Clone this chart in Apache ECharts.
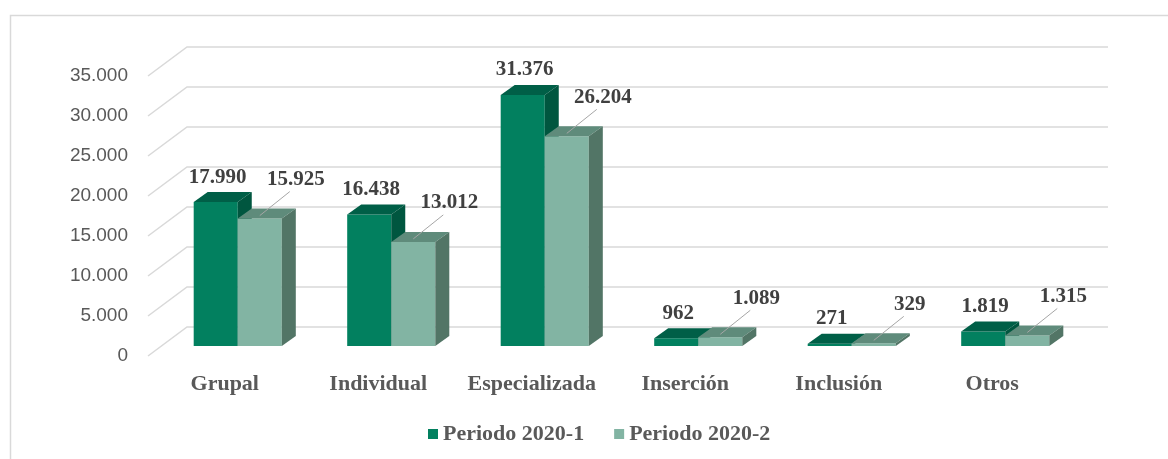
<!DOCTYPE html>
<html>
<head>
<meta charset="utf-8">
<script src="https://cdn.jsdelivr.net/npm/echarts@6/dist/echarts.min.js"></script>
<style>
html,body{margin:0;padding:0;background:#fff;}
#chart{width:1168px;height:459px;}
</style>
</head>
<body>
<div id="chart"></div>
<script>
const categories = ['Grupal', 'Individual', 'Especializada', 'Inserción', 'Inclusión', 'Otros'];
const periodo1 = [17990, 16438, 31376, 962, 271, 1819];
const periodo2 = [15925, 13012, 26204, 1089, 329, 1315];
const seriesNames = ['Periodo 2020-1', 'Periodo 2020-2'];
const yTicks = [0, 5000, 10000, 15000, 20000, 25000, 30000, 35000];

// 3D projection constants (style)
const WALL_DX = 39, WALL_DY = -29;     // front plane -> back wall
const PLANE_DX = 13, PLANE_DY = -10;   // front plane -> bar front plane
const DEPTH_DX = 14, DEPTH_DY = -10;   // bar depth
const BAR_FRAC = 0.287;

const colors = [
  {front: '#02805f', top: '#005f47', side: '#00563f'},
  {front: '#82b4a3', top: '#5f8b7b', side: '#527566'}
];

function fmt(v) {
  return String(v).replace(/\B(?=(\d{3})+(?!\d))/g, '.');
}

const serifBold = {fontFamily: 'Liberation Serif', fontWeight: 'bold'};

function barRenderer(sIdx) {
  return function (params, api) {
    const idx = api.value(0), val = api.value(1);
    const base = api.coord([idx, 0]);
    const top = api.coord([idx, val]);
    const bw = api.size([1, 0])[0] * BAR_FRAC;
    const cx = base[0] + PLANE_DX;
    const left = sIdx === 0 ? cx - bw : cx;
    const y0 = base[1] + PLANE_DY;
    const y1 = top[1] + PLANE_DY;
    const c = colors[sIdx];
    const children = [
      {type: 'rect', shape: {x: left, y: y1, width: bw, height: y0 - y1}, style: {fill: c.front}},
      {type: 'polygon', shape: {points: [[left, y1], [left + bw, y1], [left + bw + DEPTH_DX, y1 + DEPTH_DY], [left + DEPTH_DX, y1 + DEPTH_DY]]}, style: {fill: c.top}},
      {type: 'polygon', shape: {points: [[left + bw, y1], [left + bw + DEPTH_DX, y1 + DEPTH_DY], [left + bw + DEPTH_DX, y0 + DEPTH_DY], [left + bw, y0]]}, style: {fill: c.side}}
    ];
    const bc = left + bw / 2;
    if (sIdx === 0) {
      children.push({type: 'text', style: Object.assign({text: fmt(val), x: bc + 2, y: y1 - 25, align: 'center', verticalAlign: 'middle', fontSize: 21, fill: '#404040'}, serifBold), z2: 10});
    } else {
      children.push({type: 'line', shape: {x1: bc, y1: y1 - 3, x2: bc + 30, y2: y1 - 27}, style: {stroke: '#a6a6a6', lineWidth: 1}});
      children.push({type: 'text', style: Object.assign({text: fmt(val), x: bc + 36, y: y1 - 39, align: 'center', verticalAlign: 'middle', fontSize: 21, fill: '#404040'}, serifBold), z2: 10});
    }
    return {type: 'group', children: children};
  };
}

function gridRenderer(params, api) {
  const y = api.coord([0, api.value(1)])[1];
  const cs = params.coordSys;
  const x0 = cs.x, x1 = cs.x + cs.width;
  return {
    type: 'polyline',
    shape: {points: [[x0, y], [x0 + WALL_DX, y + WALL_DY], [x1 + WALL_DX, y + WALL_DY]]},
    style: {stroke: '#d9d9d9', lineWidth: 1.5, fill: null}
  };
}

const chart = echarts.init(document.getElementById('chart'));
chart.setOption({
  animation: false,
  backgroundColor: '#fff',
  graphic: [{
    type: 'rect', left: 8, top: 13, z: -10,
    shape: {width: 1300, height: 600},
    style: {fill: 'none', stroke: '#d9d9d9', lineWidth: 1.5}
  }],
  grid: {left: 148, top: 76, width: 921, height: 280},
  xAxis: {
    type: 'category', data: categories,
    axisLine: {show: false}, axisTick: {show: false},
    axisLabel: Object.assign({interval: 0, hideOverlap: false, margin: 17, fontSize: 22, color: '#595959'}, serifBold)
  },
  yAxis: {
    type: 'value', min: 0, max: 35000, interval: 5000,
    axisLine: {show: false}, axisTick: {show: false}, splitLine: {show: false},
    axisLabel: {margin: 20, fontSize: 19, color: '#595959', fontFamily: 'Liberation Sans', formatter: v => fmt(v)}
  },
  legend: {
    left: 423, top: 418, itemGap: 30, itemWidth: 10, itemHeight: 10, icon: 'rect',
    data: seriesNames,
    textStyle: Object.assign({fontSize: 22, color: '#595959'}, serifBold)
  },
  series: [
    {type: 'custom', name: 'grid', renderItem: gridRenderer, data: yTicks.map(v => [0, v]), silent: true, clip: false, z: 1},
    {type: 'custom', name: seriesNames[0], renderItem: barRenderer(0), data: periodo1.map((v, i) => [i, v]), itemStyle: {color: colors[0].front}, clip: false, z: 2},
    {type: 'custom', name: seriesNames[1], renderItem: barRenderer(1), data: periodo2.map((v, i) => [i, v]), itemStyle: {color: colors[1].front}, clip: false, z: 3}
  ]
});
</script>
</body>
</html>
